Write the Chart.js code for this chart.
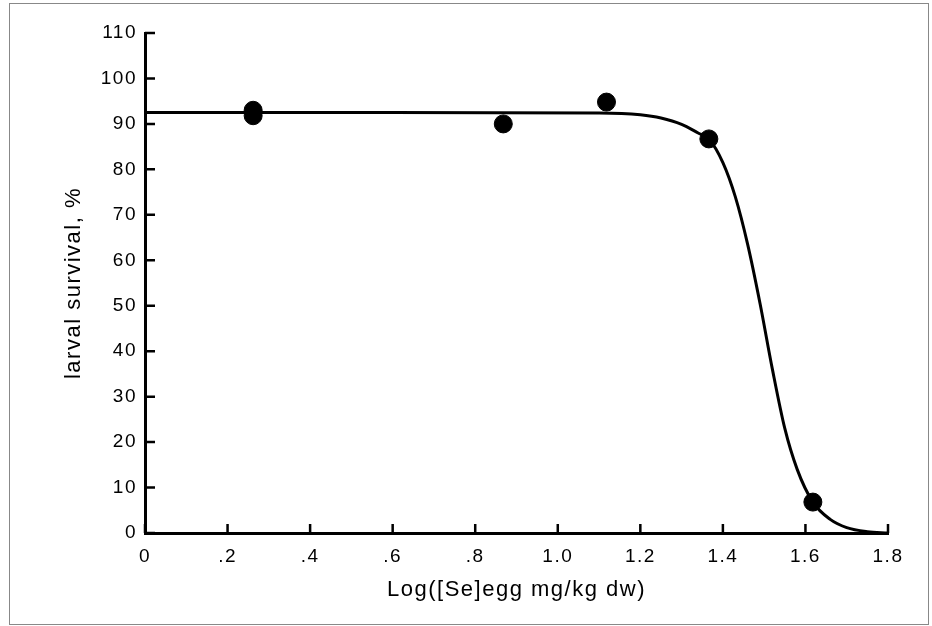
<!DOCTYPE html>
<html>
<head>
<meta charset="utf-8">
<script src="https://cdn.jsdelivr.net/npm/chart.js@4.4.1/dist/chart.umd.min.js"></script>
<style>
  html, body { margin: 0; padding: 0; background: #fff; }
  #wrap { width: 932px; height: 626px; position: relative; }
</style>
</head>
<body>
<div id="wrap"><canvas id="chart" width="932" height="626"></canvas></div>
<script>
// observed points (two overlap near x = .26)
const obsX = [0.262, 0.262, 0.868, 1.118, 1.366, 1.618];
const obsY = [93.0, 91.8, 90.0, 94.8, 86.7, 6.8];

// fitted curve
const curveX = [0, 0.6, 1.1, 1.2, 1.25, 1.3, 1.34, 1.366, 1.4, 1.43, 1.46, 1.49, 1.52, 1.55, 1.58, 1.618, 1.66, 1.7, 1.75, 1.8];
const curveY = [92.5, 92.5, 92.4, 92.0, 91.3, 89.9, 88.0, 86.7, 81.5, 74.0, 63.5, 50.5, 36.0, 23.0, 14.0, 6.8, 3.0, 1.2, 0.3, 0];

const xTicks = [0, 0.2, 0.4, 0.6, 0.8, 1.0, 1.2, 1.4, 1.6, 1.8];
const xTickLabels = ["0", ".2", ".4", ".6", ".8", "1.0", "1.2", "1.4", "1.6", "1.8"];

const FONT = "'Liberation Sans', Arial, sans-serif";

// frame round the figure + inward tick marks
const decor = {
  id: "decor",
  beforeInit(chart) {
    chart.ctx.letterSpacing = "1.5px";
  },
  beforeDraw(chart) {
    const ctx = chart.ctx;
    ctx.letterSpacing = "1.5px";
    ctx.save();
    ctx.strokeStyle = "#888";
    ctx.lineWidth = 1;
    ctx.strokeRect(9.5, 3.5, 919, 621);
    ctx.restore();
  },
  afterDraw(chart) {
    const ctx = chart.ctx;
    const xs = chart.scales.x, ys = chart.scales.y;
    ctx.save();
    ctx.strokeStyle = "#000";
    ctx.lineWidth = 2.5;
    ctx.beginPath();
    xs.ticks.forEach((t) => {
      const px = xs.getPixelForValue(t.value);
      ctx.moveTo(px, ys.bottom);
      ctx.lineTo(px, ys.bottom - 9);
    });
    ys.ticks.forEach((t) => {
      const py = ys.getPixelForValue(t.value);
      ctx.moveTo(xs.left, py);
      ctx.lineTo(xs.left + 10, py);
    });
    ctx.stroke();
    ctx.restore();
  },
};

new Chart(document.getElementById("chart"), {
  type: "scatter",
  data: {
    datasets: [
      {
        data: curveX.map((x, i) => ({ x: x, y: curveY[i] })),
        showLine: true,
        borderColor: "#000",
        borderWidth: 3,
        pointRadius: 0,
        cubicInterpolationMode: "monotone",
        order: 2,
      },
      {
        data: obsX.map((x, i) => ({ x: x, y: obsY[i] })),
        backgroundColor: "#000",
        borderColor: "#000",
        pointRadius: 9,
        order: 1,
      },
    ],
  },
  plugins: [decor],
  options: {
    responsive: false,
    animation: false,
    layout: { padding: { left: 9, top: 33, right: 44, bottom: 3 } },
    plugins: { legend: { display: false }, tooltip: { enabled: false } },
    scales: {
      x: {
        type: "linear",
        min: 0,
        max: 1.8,
        afterBuildTicks: (s) => { s.ticks = xTicks.map((v) => ({ value: v })); },
        afterFit: (s) => { s.height = 90; },
        border: { color: "#000", width: 3 },
        grid: { display: false, drawTicks: false },
        ticks: {
          color: "#000",
          padding: 12,
          font: { family: FONT, size: 19 },
          callback: (v, i) => xTickLabels[i],
        },
        title: {
          display: true,
          text: "Log([Se]egg mg/kg dw)",
          color: "#000",
          font: { family: FONT, size: 22 },
          padding: { top: 0, bottom: 20 },
        },
      },
      y: {
        min: 0,
        max: 110,
        afterFit: (s) => { s.width = 136; },
        border: { color: "#000", width: 3 },
        grid: { display: false, drawTicks: false },
        ticks: {
          stepSize: 10,
          color: "#000",
          padding: 8,
          font: { family: FONT, size: 19 },
        },
        title: {
          display: true,
          text: "larval survival, %",
          color: "#000",
          font: { family: FONT, size: 22 },
          padding: { top: 52, bottom: 0 },
        },
      },
    },
  },
});
</script>
</body>
</html>
